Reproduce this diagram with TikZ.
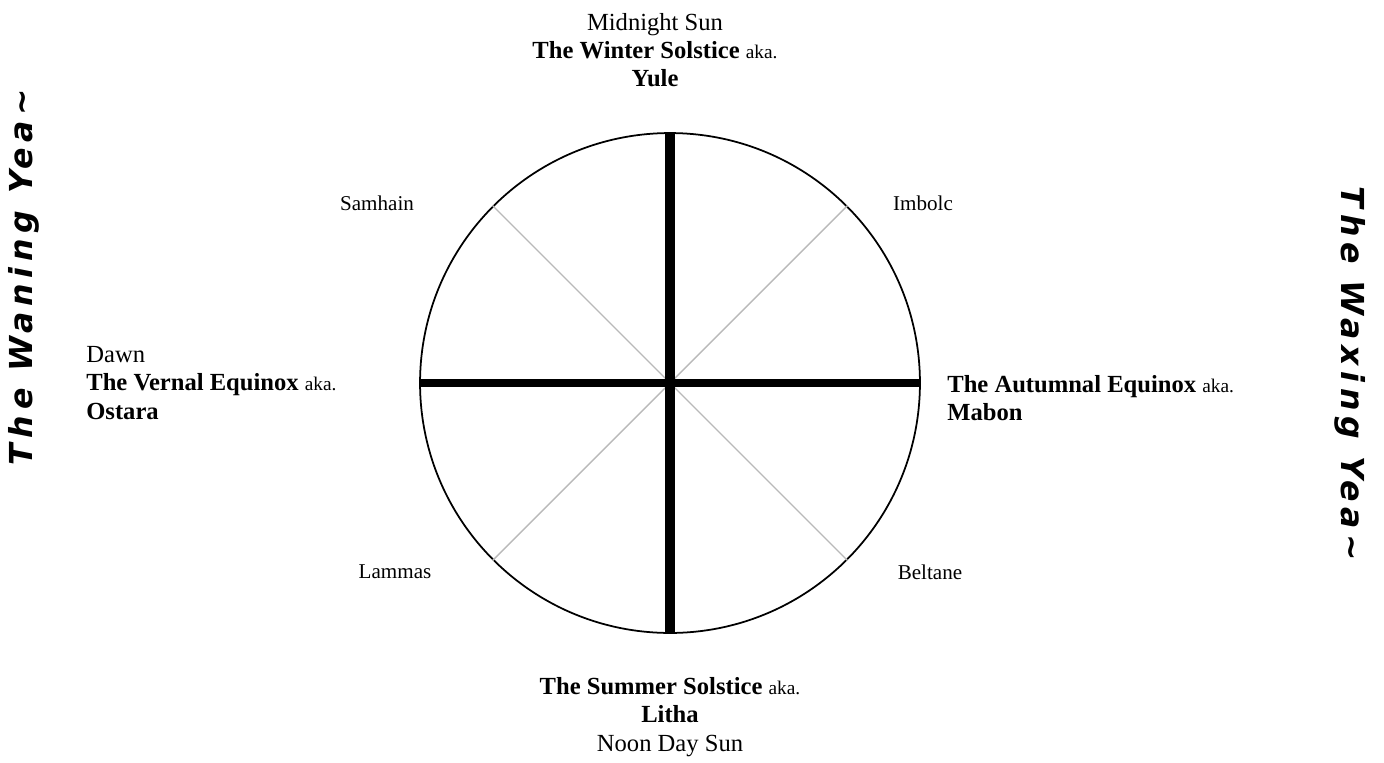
\documentclass[tikz,border=0pt]{standalone}
\usepackage{fontspec}
\setmainfont{Liberation Serif}
\newfontfamily\sidefont[LetterSpace=18]{DejaVu Sans}

\newcommand{\aka}{{\fontsize{11}{16}\selectfont aka.}}

\tikzset{
  season/.style={font=\fontsize{14}{16}\selectfont, inner sep=0pt},
  festival/.style={font=\fontsize{12}{14}\selectfont, inner sep=0pt},
  yearlabel/.style={font=\sidefont\bfseries\itshape\fontsize{18}{20}\selectfont, inner sep=0pt},
  spoke/.style={draw=gray!55, line width=0.8pt},
  axis/.style={draw=black, line width=4.5pt},
}

\begin{document}
\begin{tikzpicture}[x=0.02cm, y=-0.02cm]
\useasboundingbox (0,0) rectangle (1384,762);

\node[draw, circle, line width=1pt, minimum size=10cm, inner sep=0pt] (wheel) at (670,383) {};

\draw[spoke] (wheel.north west) -- (wheel.south east);
\draw[spoke] (wheel.north east) -- (wheel.south west);
\draw[axis, line width=5.5pt] (wheel.north) -- (wheel.south);
\draw[axis, line width=4pt] (wheel.west) -- (wheel.east);

\node[season, align=center] (yule) at (655,50) {Midnight Sun\\\textbf{The Winter Solstice} \aka\\\textbf{Yule}};
\node[season, align=center] (litha) at (670,717) {\textbf{The Summer Solstice} \aka\\\textbf{Litha}\\Noon Day Sun};
\node[season, align=left, anchor=west] (ostara) at (86,383) {Dawn\\\textbf{The Vernal Equinox} \aka\\\textbf{Ostara}};
\node[season, align=left, anchor=west] (mabon) at (947,398) {\textbf{The Autumnal Equinox} \aka\\\textbf{Mabon}};

\node[festival] (samhain) at (377,203) {Samhain};
\node[festival] (imbolc) at (923,203) {Imbolc};
\node[festival] (lammas) at (395,572) {Lammas};
\node[festival] (beltane) at (930,572) {Beltane};

\node[yearlabel, rotate=90] (waning) at (24,277) {The Waning Yea\textasciitilde};
\node[yearlabel, rotate=-90] (waxing) at (1350,374) {The Waxing Yea\textasciitilde};
\end{tikzpicture}
\end{document}
